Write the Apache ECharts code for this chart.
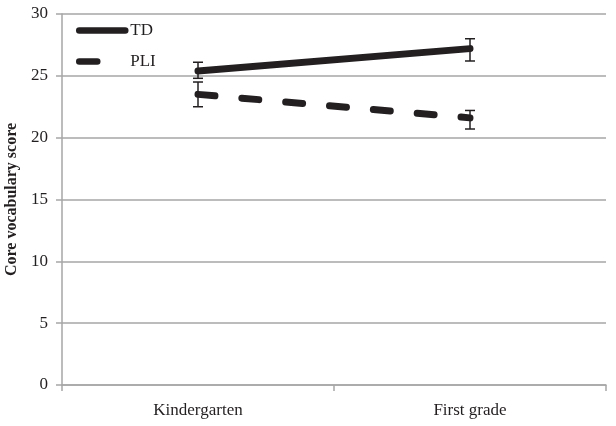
<!DOCTYPE html>
<html>
<head>
<meta charset="utf-8">
<script src="https://cdn.jsdelivr.net/npm/echarts@6/dist/echarts.min.js"></script>
<style>
  html, body { margin: 0; padding: 0; background: #fff; }
  #chart { width: 616px; height: 426px; }
</style>
</head>
<body>
<div id="chart"></div>
<script>
const categories = ['Kindergarten', 'First grade']
const tdValues = [25.4, 27.2]
const tdLow = [24.8, 26.2]
const tdHigh = [26.1, 28.0]
const pliValues = [23.5, 21.6]
const pliLow = [22.5, 20.7]
const pliHigh = [24.5, 22.2]

const myChart = echarts.init(document.getElementById('chart'))
const font = 'Liberation Serif, Times New Roman, serif'
const ink = '#231f20'
const axisGray = '#a6a6a6'

function errorSeries(name, low, high) {
  return {
    name: name + ' error',
    type: 'custom',
    z: 5,
    data: categories.map((c, i) => [i, low[i], high[i]]),
    renderItem: (params, api) => {
      const lo = api.coord([api.value(0), api.value(1)])
      const hi = api.coord([api.value(0), api.value(2)])
      const half = 5
      const style = { stroke: ink, lineWidth: 1.5 }
      return {
        type: 'group',
        children: [
          { type: 'line', shape: { x1: lo[0], y1: lo[1], x2: hi[0], y2: hi[1] }, style },
          { type: 'line', shape: { x1: lo[0] - half, y1: lo[1], x2: lo[0] + half, y2: lo[1] }, style },
          { type: 'line', shape: { x1: hi[0] - half, y1: hi[1], x2: hi[0] + half, y2: hi[1] }, style }
        ]
      }
    }
  }
}

const option = {
  animation: false,
  backgroundColor: '#fff',
  grid: { left: 62, right: 10, top: 14, bottom: 41, outerBoundsMode: 'none' },
  legend: {
    data: [
      { name: 'TD' },
      { name: 'PLI', lineStyle: { type: [18, 60] } }
    ],
    orient: 'vertical',
    left: 76,
    top: 22,
    padding: 0,
    itemWidth: 46,
    itemHeight: 14,
    itemGap: 14,
    itemStyle: { opacity: 0 },
    lineStyle: { width: 6.5 },
    textStyle: { fontFamily: font, fontSize: 17, color: ink }
  },
  xAxis: {
    type: 'category',
    data: categories,
    boundaryGap: true,
    axisLine: { lineStyle: { color: axisGray, width: 1.5 } },
    axisTick: { show: true, length: 6, lineStyle: { color: axisGray, width: 1.5 } },
    axisLabel: { fontFamily: font, fontSize: 17, color: ink, margin: 17 }
  },
  yAxis: {
    type: 'value',
    min: 0,
    max: 30,
    interval: 5,
    name: 'Core vocabulary score',
    nameLocation: 'middle',
    nameGap: 36,
    nameTextStyle: { fontFamily: font, fontSize: 16, fontWeight: 'bold', color: ink },
    axisLine: { show: true, lineStyle: { color: axisGray, width: 1.5 } },
    axisTick: { show: true, length: 6, lineStyle: { color: axisGray, width: 1.5 } },
    axisLabel: { fontFamily: font, fontSize: 17, color: ink, margin: 14 },
    splitLine: { lineStyle: { color: axisGray, width: 1.5 } }
  },
  series: [
    {
      name: 'TD',
      type: 'line',
      data: tdValues,
      symbol: 'none',
      z: 3,
      color: ink,
      lineStyle: { color: ink, width: 7, cap: 'round' }
    },
    {
      name: 'PLI',
      type: 'line',
      data: pliValues,
      symbol: 'none',
      z: 3,
      color: ink,
      lineStyle: { color: ink, width: 7, cap: 'round', type: [17, 27] }
    },
    errorSeries('TD', tdLow, tdHigh),
    errorSeries('PLI', pliLow, pliHigh)
  ]
}

myChart.setOption(option)
</script>
</body>
</html>
